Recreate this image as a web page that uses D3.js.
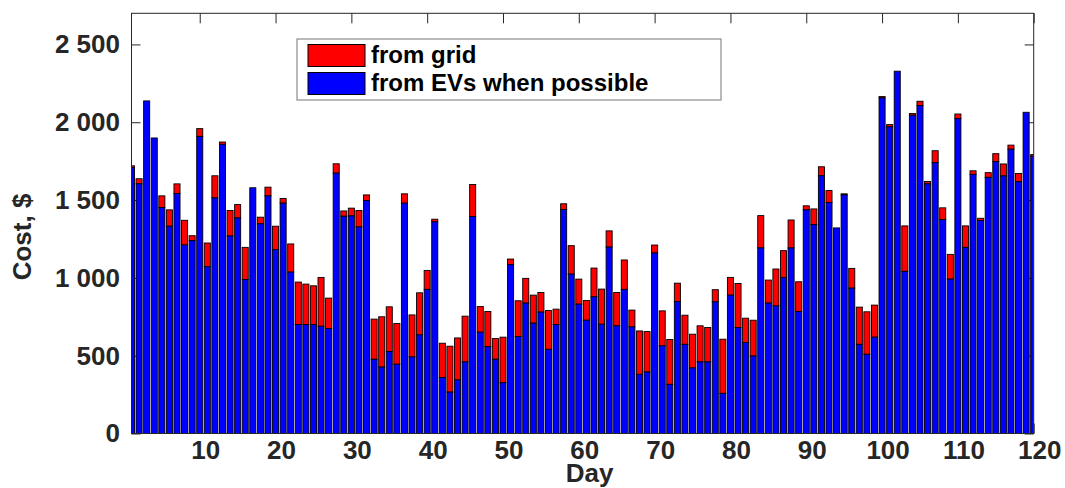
<!DOCTYPE html>
<html>
<head>
<meta charset="utf-8">
<script src="https://cdn.jsdelivr.net/npm/d3@7"></script>
<style>
    html, body { margin: 0; padding: 0; background: #ffffff; }
    svg { display: block; }
</style>
</head>
<body>
<svg></svg>
<script>
const width = 1065;
const height = 488;

// daily cost
const days = d3.range(1, 121);
const totalCost = [
    1720, 1637, 2137, 1899, 1527, 1437, 1604, 1370, 1271, 1959,
    1224, 1656, 1873, 1433, 1471, 1196, 1579, 1390, 1583, 1332,
    1510, 1218, 973, 960, 949, 1003, 870, 1733, 1430, 1448,
    1433, 1533, 735, 750, 814, 707, 1540, 762, 904, 1048,
    1377, 580, 561, 614, 754, 1600, 816, 784, 610, 619,
    1121, 853, 997, 889, 906, 790, 799, 1476, 1207, 992,
    855, 1063, 928, 1302, 906, 1115, 793, 659, 655, 1211,
    788, 604, 966, 760, 638, 692, 681, 924, 606, 1003,
    964, 741, 728, 1400, 986, 1057, 1175, 1372, 975, 1463,
    1443, 1714, 1561, 1321, 1540, 1061, 812, 782, 825, 2165,
    1985, 2328, 1334, 2056, 2135, 1619, 1817, 1450, 1151, 2053,
    1334, 1688, 1383, 1676, 1798, 1732, 1853, 1671, 2064, 1792
];
const evCost = [
    1708, 1604, 2137, 1899, 1452, 1332, 1542, 1211, 1239, 1909,
    1072, 1514, 1858, 1269, 1385, 990, 1579, 1347, 1527, 1181,
    1480, 1037, 700, 700, 700, 689, 674, 1673, 1396, 1398,
    1327, 1497, 477, 427, 526, 445, 1480, 492, 634, 926,
    1360, 359, 266, 344, 460, 1394, 651, 558, 477, 326,
    1085, 623, 838, 709, 780, 541, 700, 1439, 1024, 831,
    728, 878, 702, 1198, 692, 926, 685, 380, 395, 1160,
    563, 316, 848, 573, 421, 460, 460, 846, 258, 889,
    681, 584, 498, 1192, 838, 820, 1003, 1192, 784, 1437,
    1342, 1656, 1484, 1321, 1533, 934, 573, 509, 619, 2156,
    1970, 2328, 1042, 2045, 2107, 1604, 1740, 1375, 992, 2023,
    1196, 1665, 1368, 1646, 1747, 1655, 1827, 1618, 2064, 1782
];

const yTicks = [0, 500, 1000, 1500, 2000, 2500];
const xTicks = [10, 20, 30, 40, 50, 60, 70, 80, 90, 100, 110, 120];
const legendLabels = ["from grid", "from EVs when possible"];
const legendColors = ["#ff0000", "#0000ff"];

const plot = { left: 131.5, right: 1033.7, top: 13.3, bottom: 433.5 };
const textColor = "#262626";
const fontFamily = "'Liberation Sans', Arial, sans-serif";

const svg = d3.select("svg")
    .attr("width", width)
    .attr("height", height)
    .attr("viewBox", [0, 0, width, height]);

const x = d3.scaleLinear()
    .domain([1, 120])
    .range([plot.left, plot.right]);

const y = d3.scaleLinear()
    .domain([0, 2700])
    .range([plot.bottom, plot.top]);

const step = x(2) - x(1);
const barWidth = step * 0.8;

const spaceFormat = d3.formatLocale({
    decimal: ".",
    thousands: " ",
    grouping: [3],
    currency: ["$", ""]
}).format(",");

svg.append("defs")
    .append("clipPath")
    .attr("id", "plot-clip")
    .append("rect")
    .attr("x", plot.left)
    .attr("y", plot.top)
    .attr("width", plot.right - plot.left)
    .attr("height", plot.bottom - plot.top);

// axes (drawn under the bars, like matlab)
const yAxisLeft = svg.append("g")
    .attr("transform", `translate(${plot.left},0)`)
    .call(d3.axisLeft(y)
        .tickValues(yTicks)
        .tickSizeInner(-9)
        .tickSizeOuter(0)
        .tickPadding(11.5)
        .tickFormat(spaceFormat));

svg.append("g")
    .attr("transform", `translate(${plot.right},0)`)
    .call(d3.axisRight(y)
        .tickValues(yTicks)
        .tickSizeInner(-9)
        .tickSizeOuter(0)
        .tickFormat(""));

const xAxisBottom = svg.append("g")
    .attr("transform", `translate(0,${plot.bottom})`)
    .call(d3.axisBottom(x)
        .tickValues(xTicks)
        .tickSizeInner(-10)
        .tickSizeOuter(0)
        .tickPadding(7));

svg.append("g")
    .attr("transform", `translate(0,${plot.top})`)
    .call(d3.axisTop(x)
        .tickValues(xTicks)
        .tickSizeInner(-10)
        .tickSizeOuter(0)
        .tickFormat(""));

svg.selectAll(".domain").remove();
svg.selectAll(".tick line")
    .attr("stroke", textColor)
    .attr("stroke-width", 1);

yAxisLeft.selectAll("text")
    .attr("font-family", fontFamily)
    .attr("font-size", 26)
    .attr("font-weight", "bold")
    .attr("fill", textColor);

xAxisBottom.selectAll("text")
    .attr("font-family", fontFamily)
    .attr("font-size", 26)
    .attr("font-weight", "bold")
    .attr("fill", textColor)
    .attr("dx", 5.5);

// stacked bars
const bars = svg.append("g")
    .attr("clip-path", "url(#plot-clip)");

const barGroups = bars.selectAll("g.day")
    .data(days.map((d, i) => ({ day: d, total: totalCost[i], ev: evCost[i] })))
    .join("g")
    .classed("day", true);

barGroups.append("rect")
    .attr("x", d => x(d.day) - barWidth / 2)
    .attr("y", d => y(d.total))
    .attr("width", barWidth)
    .attr("height", d => y(d.ev) - y(d.total))
    .attr("fill", legendColors[0])
    .attr("stroke", "#000000")
    .attr("stroke-width", 0.9);

barGroups.append("rect")
    .attr("x", d => x(d.day) - barWidth / 2)
    .attr("y", d => y(d.ev))
    .attr("width", barWidth)
    .attr("height", d => y(0) - y(d.ev))
    .attr("fill", legendColors[1])
    .attr("stroke", "#000000")
    .attr("stroke-width", 0.9);

// frame
svg.append("rect")
    .attr("x", plot.left)
    .attr("y", plot.top)
    .attr("width", plot.right - plot.left)
    .attr("height", plot.bottom - plot.top)
    .attr("fill", "none")
    .attr("stroke", textColor)
    .attr("stroke-width", 1);

// axis titles
svg.append("text")
    .attr("transform", "translate(31,237) rotate(-90)")
    .attr("text-anchor", "middle")
    .attr("font-family", fontFamily)
    .attr("font-size", 26)
    .attr("font-weight", "bold")
    .attr("fill", textColor)
    .text("Cost, $");

svg.append("text")
    .attr("x", (plot.left + plot.right) / 2 + 7)
    .attr("y", 482)
    .attr("text-anchor", "middle")
    .attr("font-family", fontFamily)
    .attr("font-size", 26)
    .attr("font-weight", "bold")
    .attr("fill", textColor)
    .text("Day");

// legend
const legend = svg.append("g");

legend.append("rect")
    .attr("x", 297)
    .attr("y", 39)
    .attr("width", 424)
    .attr("height", 61)
    .attr("fill", "#ffffff")
    .attr("stroke", "#8c8c8c")
    .attr("stroke-width", 1.2);

const legendItems = legend.selectAll("g.item")
    .data(legendLabels)
    .join("g")
    .classed("item", true)
    .attr("transform", (d, i) => `translate(308,${44.5 + i * 28})`);

legendItems.append("rect")
    .attr("width", 57)
    .attr("height", 22)
    .attr("fill", (d, i) => legendColors[i])
    .attr("stroke", "#000000")
    .attr("stroke-width", 1);

legendItems.append("text")
    .attr("x", 63)
    .attr("y", 18.5)
    .attr("font-family", fontFamily)
    .attr("font-size", 24)
    .attr("font-weight", "bold")
    .attr("fill", "#000000")
    .text(d => d);
</script>
</body>
</html>
